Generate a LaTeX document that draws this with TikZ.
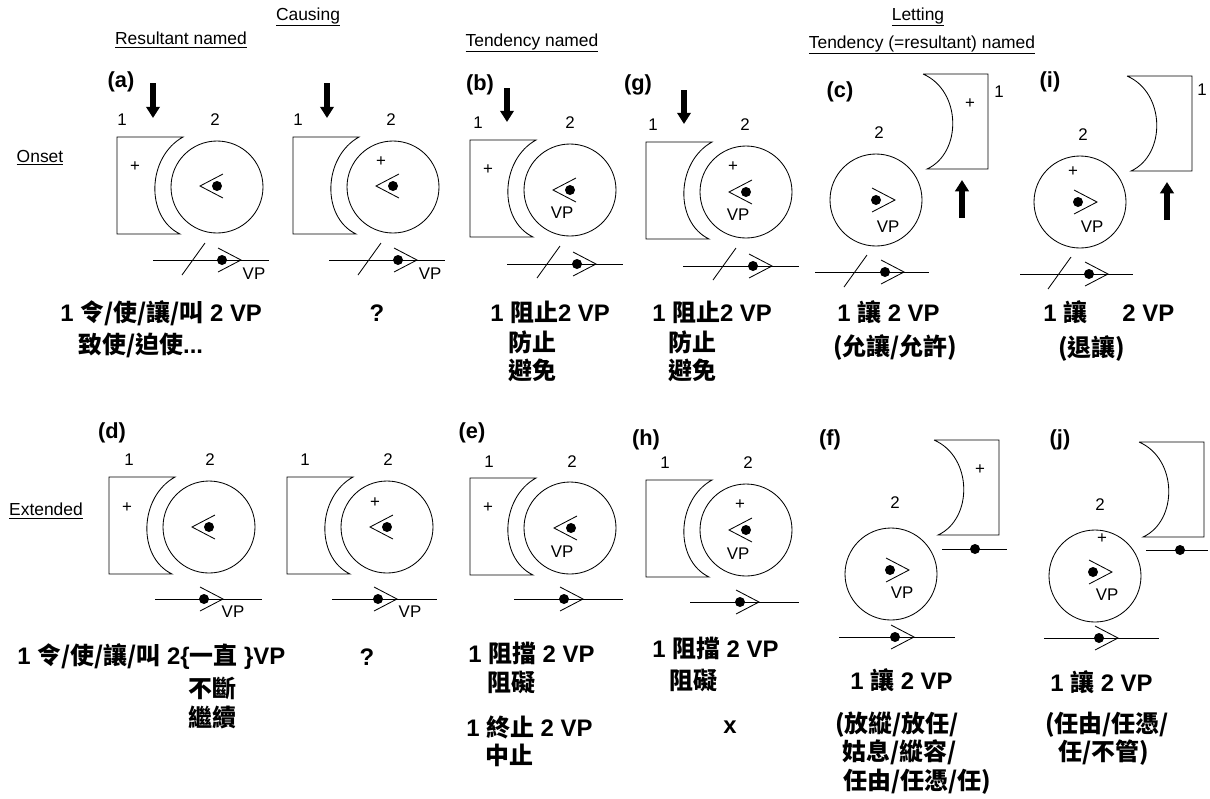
\documentclass[tikz,border=0pt]{standalone}
\usepackage{fontspec}
\setmainfont{Liberation Sans}
\newfontfamily\zh{Noto Sans CJK TC}
\usetikzlibrary{arrows.meta}

% shape of entity 1 pushing from the left
\newcommand{\pushshape}{\draw[edge] (-100,-50) -- (-34,-50) .. controls (-70,-30) and (-72,30) .. (-37,47) -- (-100,47) -- cycle;}
% shape of entity 1 standing off to the right
\newcommand{\letshape}{\draw[edge] (47,-126) -- (112,-126) -- (112,-31) -- (51,-31) .. controls (86,-47) and (86,-109) .. (47,-126);}
\newcommand{\ball}{\draw[edge] (0,0) circle[radius=46];}
\newcommand{\timeline}[4]{\draw[edge] (#1,#3) -- (#2,#3); \pic at (#4,#3) {eye right};}
\newcommand{\slashmark}[2]{\draw[edge] (#1,#2) -- ++(23,-32);}

\tikzset{
  edge/.style={line width=0.6pt},
  push/.style={line width=3.6pt, -{Triangle[width=9.5pt,length=8pt]}},
  head/.style={font=\fontsize{12.4}{14}\selectfont},
  tag/.style={font=\bfseries\fontsize{15.5}{18}\selectfont},
  num/.style={font=\fontsize{12}{14}\selectfont, inner sep=1pt},
  gloss/.style={font=\bfseries\fontsize{17}{20}\selectfont, anchor=west, inner sep=0pt},
  eye left/.pic={\fill (0,0) circle[radius=5]; \draw[edge] (6,-12) -- (-17,0) -- (6,12);},
  eye right/.pic={\fill (0,0) circle[radius=5]; \draw[edge] (-4,-12) -- (19,0) -- (-4,12);},
}

\begin{document}
\begin{tikzpicture}[x=0.025cm, y=-0.025cm]
    \useasboundingbox (0,0) rectangle (1210,798);

    % headings
    \node[head] (causing) at (308,17) {\underline{Causing}};
    \node[head] (letting) at (918,17) {\underline{Letting}};
    \node[head] (resnamed) at (181,40) {\underline{Resultant named}};
    \node[head] (tennamed) at (532,43) {\underline{Tendency named}};
    \node[head] (letnamed) at (922,45) {\underline{Tendency (=resultant) named}};
    \node[head] (onset) at (40,158) {\underline{Onset}};
    \node[head] (extended) at (46,511) {\underline{Extended}};

    % panel tags
    \node[tag] (tag-a) at (121,82) {(a)};
    \node[tag] (tag-b) at (480,85) {(b)};
    \node[tag] (tag-g) at (638,85) {(g)};
    \node[tag] (tag-c) at (840,92) {(c)};
    \node[tag] (tag-i) at (1050,82) {(i)};
    \node[tag] (tag-d) at (112,433) {(d)};
    \node[tag] (tag-e) at (472,433) {(e)};
    \node[tag] (tag-h) at (646,440) {(h)};
    \node[tag] (tag-f) at (830,440) {(f)};
    \node[tag] (tag-j) at (1060,440) {(j)};

    % (a)
    \begin{scope}[shift={(217,187)}]
        \pushshape \ball
        \pic at (0,-1) {eye left};
        \node[num] (a1) at (-95,-67) {1};
        \node[num] (a2) at (-2,-67) {2};
        \node[num] (aplus) at (-82,-20) {+};
        \draw[push] (-64,-104) -- (-64,-69);
        \timeline{-64}{52}{73}{5}
        \slashmark{-35}{88}
        \node[num] (avp) at (37,87) {VP};
    \end{scope}

    % (a) without name
    \begin{scope}[shift={(393,187)}]
        \pushshape \ball
        \pic at (0,-1) {eye left};
        \node[num] (q1) at (-95,-67) {1};
        \node[num] (q2) at (-2,-67) {2};
        \node[num] (qplus) at (-12,-25) {+};
        \draw[push] (-66,-104) -- (-66,-69);
        \timeline{-64}{52}{73}{5}
        \slashmark{-35}{88}
        \node[num] (qvp) at (37,87) {VP};
    \end{scope}

    % (b)
    \begin{scope}[shift={(570,190)}]
        \pushshape \ball
        \pic at (0,0) {eye left};
        \node[num] (b1) at (-92,-67) {1};
        \node[num] (b2) at (0,-67) {2};
        \node[num] (bplus) at (-82,-20) {+};
        \node[num] (bvp) at (-8,23) {VP};
        \draw[push] (-63,-102) -- (-63,-68);
        \timeline{-63}{53}{74}{7}
        \slashmark{-33}{88}
    \end{scope}

    % (g)
    \begin{scope}[shift={(746,192)}]
        \pushshape \ball
        \pic at (0,0) {eye left};
        \node[num] (g1) at (-93,-67) {1};
        \node[num] (g2) at (-1,-67) {2};
        \node[num] (gplus) at (-13,-25) {+};
        \node[num] (gvp) at (-8,23) {VP};
        \draw[push] (-62,-102) -- (-62,-68);
        \timeline{-63}{53}{74}{7}
        \slashmark{-33}{88}
    \end{scope}

    % (c)
    \begin{scope}[shift={(876,200)}]
        \letshape \ball
        \pic at (0,0) {eye right};
        \node[num] (c1) at (123,-108) {1};
        \node[num] (c2) at (3,-67) {2};
        \node[num] (cplus) at (94,-96) {+};
        \node[num] (cvp) at (12,27) {VP};
        \draw[push] (86,18) -- (86,-20);
        \timeline{-61}{53}{72}{9}
        \slashmark{-32}{87}
    \end{scope}

    % (i)
    \begin{scope}[shift={(1080,202)}]
        \letshape \ball
        \pic at (-2,0) {eye right};
        \node[num] (i1) at (122,-112) {1};
        \node[num] (i2) at (3,-67) {2};
        \node[num] (iplus) at (-7,-30) {+};
        \node[num] (ivp) at (12,25) {VP};
        \draw[push] (87,18) -- (87,-20);
        \timeline{-60}{53}{72}{9}
        \slashmark{-32}{87}
    \end{scope}

    % (d)
    \begin{scope}[shift={(209,527)}]
        \pushshape \ball
        \pic at (0,0) {eye left};
        \node[num] (d1) at (-80,-67) {1};
        \node[num] (d2) at (1,-67) {2};
        \node[num] (dplus) at (-82,-19) {+};
        \timeline{-54}{53}{72}{-5}
        \node[num] (dvp) at (24,85) {VP};
    \end{scope}

    % (d) without name
    \begin{scope}[shift={(387,527)}]
        \pushshape \ball
        \pic at (0,0) {eye left};
        \node[num] (r1) at (-82,-67) {1};
        \node[num] (r2) at (1,-67) {2};
        \node[num] (rplus) at (-12,-24) {+};
        \timeline{-55}{50}{72}{-9}
        \node[num] (rvp) at (23,85) {VP};
    \end{scope}

    % (e)
    \begin{scope}[shift={(570,528)}]
        \pushshape \ball
        \pic at (1,0) {eye left};
        \node[num] (e1) at (-81,-66) {1};
        \node[num] (e2) at (2,-66) {2};
        \node[num] (eplus) at (-82,-20) {+};
        \node[num] (evp) at (-8,24) {VP};
        \timeline{-56}{53}{71}{-6}
    \end{scope}

    % (h)
    \begin{scope}[shift={(746,530)}]
        \pushshape \ball
        \pic at (0,0) {eye left};
        \node[num] (h1) at (-81,-67) {1};
        \node[num] (h2) at (2,-67) {2};
        \node[num] (hplus) at (-6,-25) {+};
        \node[num] (hvp) at (-8,24) {VP};
        \timeline{-56}{53}{72}{-6}
    \end{scope}

    % (f)
    \begin{scope}[shift={(891,574)}]
        \begin{scope}[shift={(-4,-8)}]
            \letshape
            \node[num] (fplus) at (93,-96) {+};
        \end{scope}
        \ball
        \pic at (-1,-4) {eye right};
        \node[num] (f2) at (4,-71) {2};
        \node[num] (fvp) at (11,19) {VP};
        \draw[edge] (51,-25) -- (116,-25);
        \fill (84,-25) circle[radius=5];
        \timeline{-52}{64}{63}{4}
    \end{scope}

    % (j)
    \begin{scope}[shift={(1095,576)}]
        \begin{scope}[shift={(-3,-8)}]
            \letshape
        \end{scope}
        \ball
        \pic at (-2,-4) {eye right};
        \node[num] (j2) at (5,-71) {2};
        \node[num] (jplus) at (7,-37) {+};
        \node[num] (jvp) at (12,19) {VP};
        \draw[edge] (51,-26) -- (113,-26);
        \fill (85,-26) circle[radius=5];
        \timeline{-51}{64}{62}{4}
    \end{scope}

    % glosses, onset row
    \node[gloss] (ta1) at (60,313) {1 {\zh 令/使/讓/叫} 2 VP};
    \node[gloss] (ta2) at (78,345) {{\zh 致使/迫使}...};
    \node[gloss, anchor=center] (tq1) at (377,313) {?};
    \node[gloss] (tb1) at (490,312) {1 {\zh 阻止}2 VP};
    \node[gloss] (tb2) at (508,342) {\zh 防止};
    \node[gloss] (tb3) at (508,370) {\zh 避免};
    \node[gloss] (tg1) at (652,312) {1 {\zh 阻止}2 VP};
    \node[gloss] (tg2) at (668,342) {\zh 防止};
    \node[gloss] (tg3) at (668,370) {\zh 避免};
    \node[gloss] (tc1) at (837,312) {1 {\zh 讓} 2 VP};
    \node[gloss] (tc2) at (833,347) {\zh (允讓/允許)};
    \node[gloss] (ti1) at (1043,312) {1 {\zh 讓}\hspace{1.2em} 2 VP};
    \node[gloss] (ti2) at (1058,348) {\zh (退讓)};

    % glosses, extended row
    \node[gloss] (td1) at (17,657) {1 {\zh 令/使/讓/叫} 2\{{\zh 一直} \}VP};
    \node[gloss] (td2) at (188,688) {\zh 不斷};
    \node[gloss] (td3) at (188,717) {\zh 繼續};
    \node[gloss, anchor=center] (tq2) at (367,657) {?};
    \node[gloss] (te1) at (468,653) {1 {\zh 阻擋} 2 VP};
    \node[gloss] (te2) at (487,682) {\zh 阻礙};
    \node[gloss] (te3) at (466,727) {1 {\zh 終止} 2 VP};
    \node[gloss] (te4) at (485,755) {\zh 中止};
    \node[gloss] (th1) at (652,648) {1 {\zh 阻擋} 2 VP};
    \node[gloss] (th2) at (669,680) {\zh 阻礙};
    \node[gloss, anchor=center] (thx) at (730,727) {x};
    \node[gloss] (tf1) at (850,680) {1 {\zh 讓} 2 VP};
    \node[gloss] (tf2) at (835,725) {\zh (放縱/放任/};
    \node[gloss] (tf3) at (842,752) {\zh 姑息/縱容/};
    \node[gloss] (tf4) at (843,782) {\zh 任由/任憑/任)};
    \node[gloss] (tj1) at (1050,682) {1 {\zh 讓} 2 VP};
    \node[gloss] (tj2) at (1045,725) {\zh (任由/任憑/};
    \node[gloss] (tj3) at (1058,753) {\zh 任/不管)};
\end{tikzpicture}
\end{document}
